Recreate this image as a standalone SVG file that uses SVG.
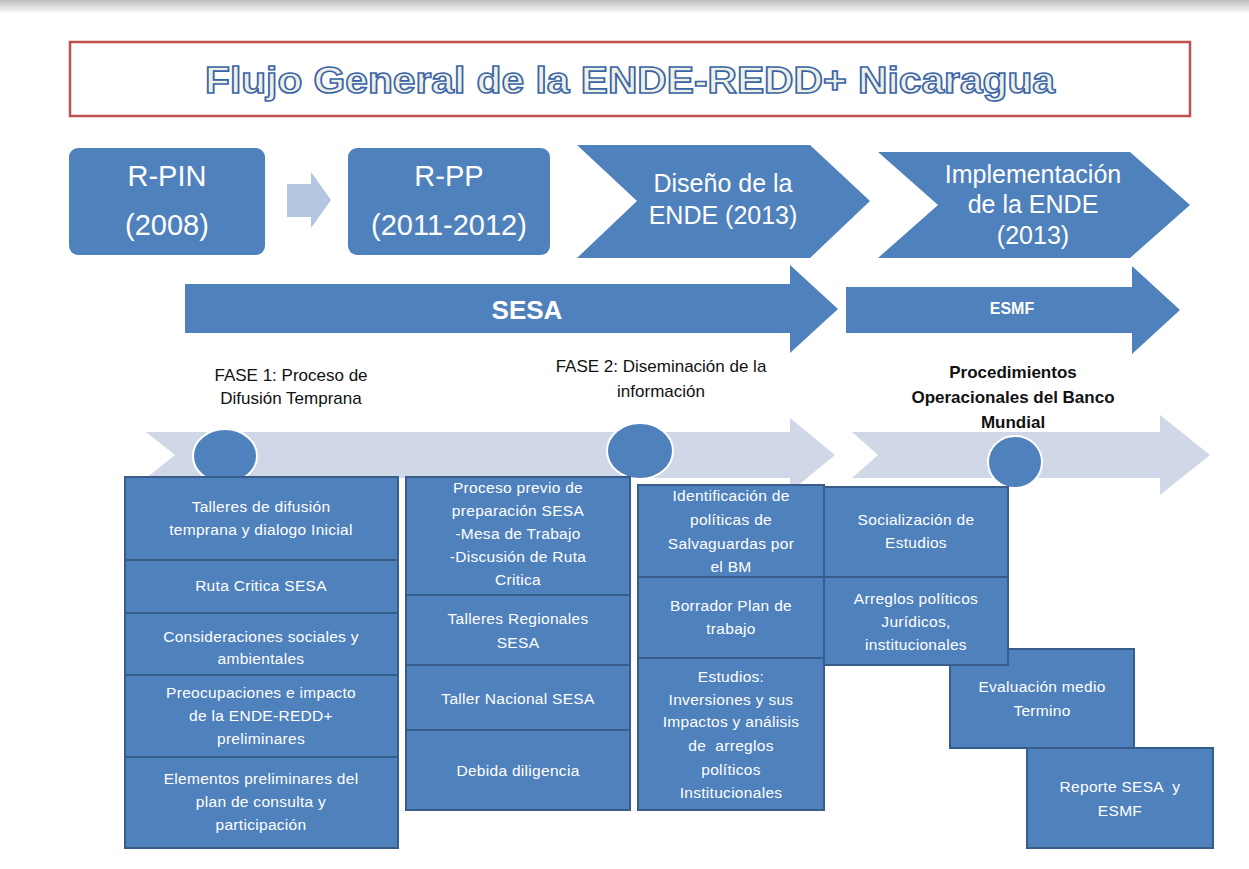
<svg xmlns="http://www.w3.org/2000/svg" width="1249" height="869" viewBox="0 0 1249 869">
<defs>
<linearGradient id="topshade" x1="0" y1="0" x2="0" y2="1">
<stop offset="0" stop-color="#bdbdbd"/>
<stop offset="1" stop-color="#ffffff"/>
</linearGradient>
<style>
.blue{fill:#4f81bd;}
.box{fill:#4f81bd;stroke:#385d8a;stroke-width:2;}
.band{fill:#d0d8e8;}
.wt{fill:#ffffff;font-family:"Liberation Sans",Arial,sans-serif;text-anchor:middle;}
.big{font-size:29px;}
.chev{font-size:25px;}
.small{font-size:15.5px;letter-spacing:0.3px;}
.lbl{fill:#111111;font-family:"Liberation Sans",Arial,sans-serif;font-size:17px;text-anchor:middle;}
.title{font-family:"Liberation Sans",Arial,sans-serif;font-weight:bold;font-size:37px;fill:#eef0e4;stroke:#3a64a8;stroke-width:1.6px;text-anchor:middle;}
</style>
</defs>
<rect x="0" y="0" width="1249" height="869" fill="#ffffff"/>
<rect x="0" y="0" width="1249" height="14" fill="url(#topshade)"/>

<g id="title">
<rect x="70" y="42" width="1120" height="74" fill="#ffffff" stroke="#c0504d" stroke-width="2.5"/>
<text class="title" x="630" y="93" textLength="850" lengthAdjust="spacingAndGlyphs">Flujo General de la ENDE-REDD+ Nicaragua</text>
</g>

<g id="connectors">
<polygon fill="#b4c5e0" points="287,184 311,184 311,172 331,200 311,228 311,217 287,217"/>
</g>

<g id="rpin">
<rect class="blue" x="69" y="148" width="196" height="107" rx="9"/>
<text class="wt big" x="167" y="186">R-PIN</text>
<text class="wt big" x="167" y="235">(2008)</text>
</g>

<g id="rpp">
<rect class="blue" x="348" y="148" width="202" height="107" rx="9"/>
<text class="wt big" x="449" y="186">R-PP</text>
<text class="wt big" x="449" y="235">(2011-2012)</text>
</g>

<g id="diseno">
<polygon class="blue" points="577,145 810,145 870,201 810,258 577,258 637,201"/>
<text class="wt chev" x="723" y="192">Diseño de la</text>
<text class="wt chev" x="723" y="224">ENDE (2013)</text>
</g>

<g id="implementacion">
<polygon class="blue" points="878,152 1130,152 1190,205 1130,258 878,258 938,205"/>
<text class="wt chev" x="1033" y="183">Implementación</text>
<text class="wt chev" x="1033" y="213">de la ENDE</text>
<text class="wt chev" x="1033" y="244">(2013)</text>
</g>

<g id="sesa">
<polygon class="blue" points="185,284 790,284 790,265 838,309 790,353 790,333 185,333"/>
<text class="wt" x="527" y="319" font-size="26" font-weight="bold">SESA</text>
</g>

<g id="esmf">
<polygon class="blue" points="846,287 1132,287 1132,266 1180,310 1132,354 1132,333 846,333"/>
<text class="wt" x="1012" y="314" font-size="16" font-weight="bold">ESMF</text>
</g>

<g id="fase1-label">
<text class="lbl" x="291" y="381">FASE 1: Proceso de</text>
<text class="lbl" x="291" y="404">Difusión Temprana</text>
</g>
<g id="fase2-label">
<text class="lbl" x="661" y="372">FASE 2: Diseminación de la</text>
<text class="lbl" x="661" y="397">información</text>
</g>
<g id="procedimientos-label">
<text class="lbl" x="1013" y="378" font-weight="bold" font-size="16.5">Procedimientos</text>
<text class="lbl" x="1013" y="403" font-weight="bold" font-size="16.5">Operacionales del Banco</text>
<text class="lbl" x="1013" y="428" font-weight="bold" font-size="16.5">Mundial</text>
</g>

<g id="band1">
<polygon class="band" points="146,432 790,432 790,418 835,455 790,492 790,478 146,478 175,455"/>
</g>
<g id="band2">
<polygon class="band" points="852,432 1160,432 1160,415 1210,455 1160,495 1160,478 852,478 878,455"/>
</g>

<g id="hito1"><ellipse class="blue" cx="225" cy="456" rx="32" ry="27" stroke="#ffffff" stroke-width="2"/></g>
<g id="hito2"><ellipse class="blue" cx="640" cy="451" rx="33" ry="28" stroke="#ffffff" stroke-width="2"/></g>
<g id="hito3"><ellipse class="blue" cx="1015" cy="462" rx="27" ry="26" stroke="#ffffff" stroke-width="2"/></g>

<g id="c1-talleres">
<rect class="box" x="125" y="477" width="273" height="83"/>
<text class="wt small" x="261" y="512">Talleres de difusión</text>
<text class="wt small" x="261" y="535">temprana y dialogo Inicial</text>
</g>
<g id="c1-ruta">
<rect class="box" x="125" y="560" width="273" height="53"/>
<text class="wt small" x="261" y="591">Ruta Critica SESA</text>
</g>
<g id="c1-consideraciones">
<rect class="box" x="125" y="613" width="273" height="62"/>
<text class="wt small" x="261" y="642">Consideraciones sociales y</text>
<text class="wt small" x="261" y="664">ambientales</text>
</g>
<g id="c1-preocupaciones">
<rect class="box" x="125" y="675" width="273" height="82"/>
<text class="wt small" x="261" y="698">Preocupaciones e impacto</text>
<text class="wt small" x="261" y="721">de la ENDE-REDD+</text>
<text class="wt small" x="261" y="744">preliminares</text>
</g>
<g id="c1-elementos">
<rect class="box" x="125" y="757" width="273" height="91"/>
<text class="wt small" x="261" y="784">Elementos preliminares del</text>
<text class="wt small" x="261" y="807">plan de consulta y</text>
<text class="wt small" x="261" y="830">participación</text>
</g>

<g id="c2-proceso">
<rect class="box" x="406" y="477" width="224" height="118"/>
<text class="wt small" x="518" y="493">Proceso previo de</text>
<text class="wt small" x="518" y="516">preparación SESA</text>
<text class="wt small" x="518" y="539">-Mesa de Trabajo</text>
<text class="wt small" x="518" y="562">-Discusión de Ruta</text>
<text class="wt small" x="518" y="585">Critica</text>
</g>
<g id="c2-regionales">
<rect class="box" x="406" y="595" width="224" height="70"/>
<text class="wt small" x="518" y="624">Talleres Regionales</text>
<text class="wt small" x="518" y="648">SESA</text>
</g>
<g id="c2-nacional">
<rect class="box" x="406" y="665" width="224" height="65"/>
<text class="wt small" x="518" y="704">Taller Nacional SESA</text>
</g>
<g id="c2-debida">
<rect class="box" x="406" y="730" width="224" height="80"/>
<text class="wt small" x="518" y="776">Debida diligencia</text>
</g>

<g id="c3-identificacion">
<rect class="box" x="638" y="485" width="186" height="92"/>
<text class="wt small" x="731" y="501">Identificación de</text>
<text class="wt small" x="731" y="525">políticas de</text>
<text class="wt small" x="731" y="549">Salvaguardas por</text>
<text class="wt small" x="731" y="572">el BM</text>
</g>
<g id="c3-borrador">
<rect class="box" x="638" y="577" width="186" height="81"/>
<text class="wt small" x="731" y="611">Borrador Plan de</text>
<text class="wt small" x="731" y="634">trabajo</text>
</g>
<g id="c3-estudios">
<rect class="box" x="638" y="658" width="186" height="152"/>
<text class="wt small" x="731" y="682">Estudios:</text>
<text class="wt small" x="731" y="705">Inversiones y sus</text>
<text class="wt small" x="731" y="727">Impactos y análisis</text>
<text class="wt small" x="731" y="751" xml:space="preserve">de  arreglos</text>
<text class="wt small" x="731" y="775">políticos</text>
<text class="wt small" x="731" y="798">Institucionales</text>
</g>

<g id="reporte">
<rect class="box" x="1027" y="748" width="186" height="100"/>
<text class="wt small" x="1120" y="792" xml:space="preserve">Reporte SESA  y</text>
<text class="wt small" x="1120" y="816">ESMF</text>
</g>
<g id="evaluacion">
<rect class="box" x="950" y="649" width="184" height="99"/>
<text class="wt small" x="1042" y="692">Evaluación medio</text>
<text class="wt small" x="1042" y="716">Termino</text>
</g>
<g id="c4-socializacion">
<rect class="box" x="824" y="487" width="184" height="90"/>
<text class="wt small" x="916" y="525">Socialización de</text>
<text class="wt small" x="916" y="548">Estudios</text>
</g>
<g id="c4-arreglos">
<rect class="box" x="824" y="577" width="184" height="88"/>
<text class="wt small" x="916" y="604">Arreglos políticos</text>
<text class="wt small" x="916" y="627">Jurídicos,</text>
<text class="wt small" x="916" y="650">institucionales</text>
</g>
</svg>
